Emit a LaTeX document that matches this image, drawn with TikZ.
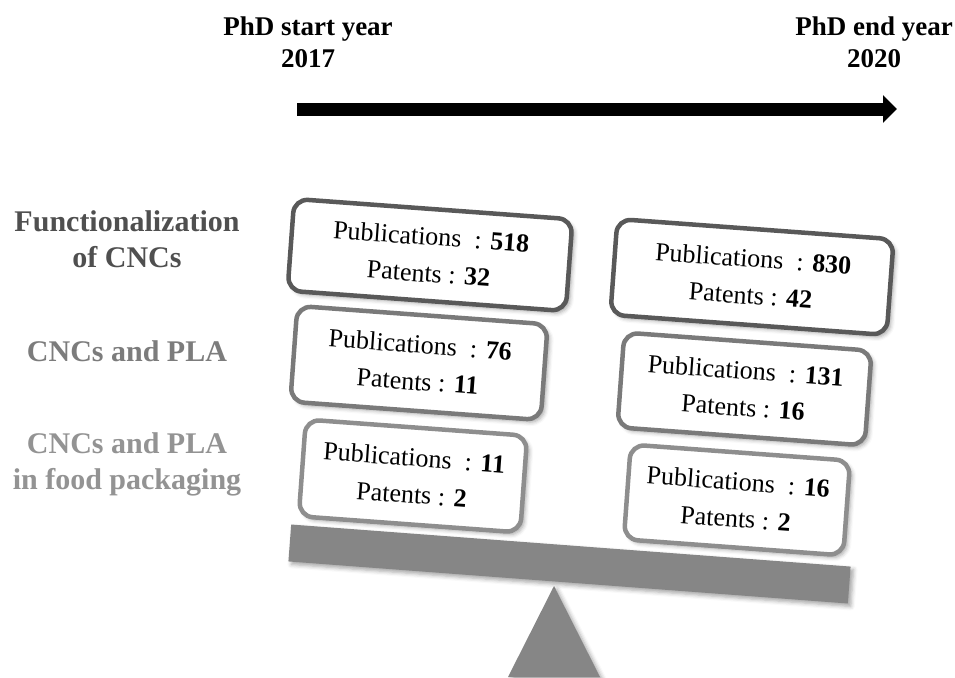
\documentclass[tikz,border=0pt]{standalone}
\usepackage{fontspec}
\setmainfont{Liberation Serif}
\usetikzlibrary{arrows.meta,shadows.blur}
\definecolor{bdA}{HTML}{595959}
\definecolor{bdB}{HTML}{7A7A7A}
\definecolor{bdC}{HTML}{8E8E8E}
\definecolor{lbA}{HTML}{4F4F4F}
\definecolor{lbB}{HTML}{7C7C7C}
\definecolor{lbC}{HTML}{939393}
\definecolor{woodgray}{HTML}{868686}
\begin{document}
\begin{tikzpicture}[x=1pt,y=-1pt,
  softshadow/.style={blur shadow={shadow xshift=3pt, shadow yshift=-3pt, shadow blur radius=4pt, shadow opacity=35}},
  pubbox/.style={draw, line width=4.5pt, rounded corners=14pt, fill=white, align=center,
    inner sep=0pt, font=\fontsize{26}{37}\selectfont, rotate=-4.2, softshadow},
  toplabel/.style={align=center, font=\fontsize{27}{32}\selectfont\bfseries},
  sidelabel/.style={align=center, font=\fontsize{30}{36}\selectfont\bfseries},
  plank/.style={fill=woodgray, inner sep=0pt, minimum width=561pt, minimum height=37pt, rotate=-4.3, softshadow},
  fulcrum/.style={fill=woodgray, softshadow},
  timeline/.style={line width=13pt, -{Triangle[length=14pt,width=27pt]}}
]
\useasboundingbox (0,0) rectangle (955,677);

% top labels and timeline
\node[toplabel] (start) at (308,42) {PhD start year\\2017};
\node[toplabel] (end) at (874,42) {PhD end year\\2020};
\coordinate (tstart) at (297,109);
\coordinate (tend) at (897,109);
\draw[timeline] (tstart) -- (tend);

% side labels
\node[sidelabel, text=lbA] (labA) at (127,239) {Functionalization\\of CNCs};
\node[sidelabel, text=lbB] (labB) at (127,351) {CNCs and PLA};
\node[sidelabel, text=lbC] (labC) at (127,464) {CNCs and PLA\\in food packaging};

% seesaw
\fill[fulcrum] (554,586) -- (600,677) -- (508,677) -- cycle;
\node[plank] (beam) at (569.5,564) {};

% boxes left (2017)
\node[pubbox, draw=bdA, minimum width=279pt, minimum height=92pt] (b1) at (430,255)
  {Publications\ \ : \textbf{518}\\Patents : \textbf{32}};
\node[pubbox, draw=bdB, minimum width=251pt, minimum height=96pt] (b2) at (419,363)
  {Publications\ \ : \textbf{76}\\Patents : \textbf{11}};
\node[pubbox, draw=bdC, minimum width=222pt, minimum height=97pt] (b3) at (413,476)
  {Publications\ \ : \textbf{11}\\Patents : \textbf{2}};

% boxes right (2020)
\node[pubbox, draw=bdA, minimum width=277pt, minimum height=96pt] (b4) at (752,277)
  {Publications\ \ : \textbf{830}\\Patents : \textbf{42}};
\node[pubbox, draw=bdB, minimum width=248pt, minimum height=95pt] (b5) at (744.5,389)
  {Publications\ \ : \textbf{131}\\Patents : \textbf{16}};
\node[pubbox, draw=bdC, minimum width=220pt, minimum height=95pt] (b6) at (737,500)
  {Publications\ \ : \textbf{16}\\Patents : \textbf{2}};
\end{tikzpicture}
\end{document}
